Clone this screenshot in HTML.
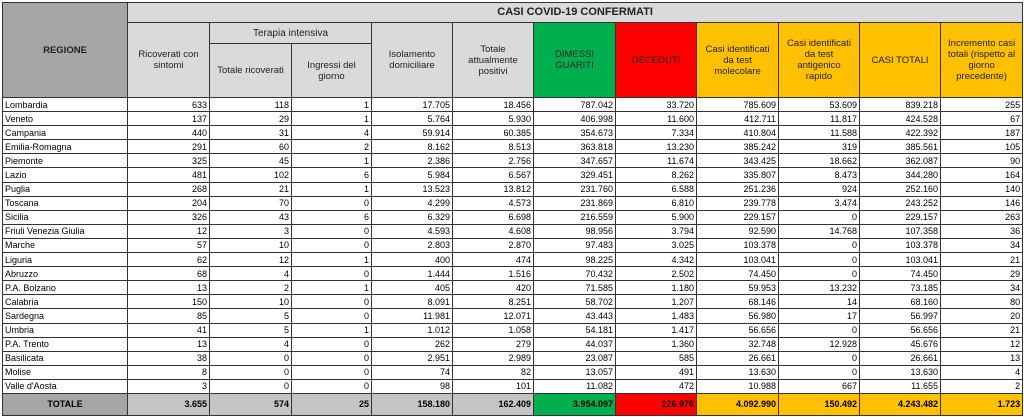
<!DOCTYPE html>
<html><head><meta charset="utf-8"><style>
body{margin:0;background:#fff;width:1024px;height:417px;overflow:hidden;font-family:"Liberation Sans",sans-serif;}
table{position:absolute;left:2px;top:2px;border-collapse:collapse;table-layout:fixed;width:1020px;}
td{border:1px solid #333;padding:0 2px;font-size:9px;line-height:12px;overflow:hidden;white-space:nowrap;text-align:right;color:#000;}
td.l{text-align:left}
.h td{background:#dadada;text-align:center;white-space:normal;line-height:11px;font-size:9.5px;color:#222;padding:0 7px}
.g{background:#00b04f!important}
.r{background:#ff0000!important}
.o{background:#ffc000!important}
.reg{background:#a6a6a6!important;font-weight:bold}
tr.d td{height:13.1px}
tr.t td{height:21px;background:#c4c4c4;font-weight:bold;font-size:9px}
</style></head><body>
<table>
<colgroup><col style="width:125px"><col style="width:82px"><col style="width:82px"><col style="width:80px"><col style="width:81px"><col style="width:81px"><col style="width:82px"><col style="width:81px"><col style="width:82px"><col style="width:81px"><col style="width:81px"><col style="width:82px"></colgroup>
<tr class="h"><td rowspan="3" class="reg">REGIONE</td><td colspan="11" style="height:19px;font-weight:bold;font-size:11px">CASI COVID-19 CONFERMATI</td></tr>
<tr class="h"><td rowspan="2">Ricoverati con sintomi</td><td colspan="2" style="height:20px;font-size:10px">Terapia intensiva</td><td rowspan="2">Isolamento domiciliare</td><td rowspan="2">Totale attualmente positivi</td><td rowspan="2" class="g">DIMESSI GUARITI</td><td rowspan="2" class="r">DECEDUTI</td><td rowspan="2" class="o">Casi identificati da test molecolare</td><td rowspan="2" class="o">Casi identificati da test antigenico rapido</td><td rowspan="2" class="o">CASI TOTALI</td><td rowspan="2" class="o" style="padding:0 3px">Incremento casi totali (rispetto al giorno precedente)</td></tr>
<tr class="h"><td style="height:53px">Totale ricoverati</td><td>Ingressi del giorno</td></tr>
<tr class="d"><td class="l">Lombardia</td><td>633</td><td>118</td><td>1</td><td>17.705</td><td>18.456</td><td>787.042</td><td>33.720</td><td>785.609</td><td>53.609</td><td>839.218</td><td>255</td></tr>
<tr class="d"><td class="l">Veneto</td><td>137</td><td>29</td><td>1</td><td>5.764</td><td>5.930</td><td>406.998</td><td>11.600</td><td>412.711</td><td>11.817</td><td>424.528</td><td>67</td></tr>
<tr class="d"><td class="l">Campania</td><td>440</td><td>31</td><td>4</td><td>59.914</td><td>60.385</td><td>354.673</td><td>7.334</td><td>410.804</td><td>11.588</td><td>422.392</td><td>187</td></tr>
<tr class="d"><td class="l">Emilia-Romagna</td><td>291</td><td>60</td><td>2</td><td>8.162</td><td>8.513</td><td>363.818</td><td>13.230</td><td>385.242</td><td>319</td><td>385.561</td><td>105</td></tr>
<tr class="d"><td class="l">Piemonte</td><td>325</td><td>45</td><td>1</td><td>2.386</td><td>2.756</td><td>347.657</td><td>11.674</td><td>343.425</td><td>18.662</td><td>362.087</td><td>90</td></tr>
<tr class="d"><td class="l">Lazio</td><td>481</td><td>102</td><td>6</td><td>5.984</td><td>6.567</td><td>329.451</td><td>8.262</td><td>335.807</td><td>8.473</td><td>344.280</td><td>164</td></tr>
<tr class="d"><td class="l">Puglia</td><td>268</td><td>21</td><td>1</td><td>13.523</td><td>13.812</td><td>231.760</td><td>6.588</td><td>251.236</td><td>924</td><td>252.160</td><td>140</td></tr>
<tr class="d"><td class="l">Toscana</td><td>204</td><td>70</td><td>0</td><td>4.299</td><td>4.573</td><td>231.869</td><td>6.810</td><td>239.778</td><td>3.474</td><td>243.252</td><td>146</td></tr>
<tr class="d"><td class="l">Sicilia</td><td>326</td><td>43</td><td>6</td><td>6.329</td><td>6.698</td><td>216.559</td><td>5.900</td><td>229.157</td><td>0</td><td>229.157</td><td>263</td></tr>
<tr class="d"><td class="l">Friuli Venezia Giulia</td><td>12</td><td>3</td><td>0</td><td>4.593</td><td>4.608</td><td>98.956</td><td>3.794</td><td>92.590</td><td>14.768</td><td>107.358</td><td>36</td></tr>
<tr class="d"><td class="l">Marche</td><td>57</td><td>10</td><td>0</td><td>2.803</td><td>2.870</td><td>97.483</td><td>3.025</td><td>103.378</td><td>0</td><td>103.378</td><td>34</td></tr>
<tr class="d"><td class="l">Liguria</td><td>62</td><td>12</td><td>1</td><td>400</td><td>474</td><td>98.225</td><td>4.342</td><td>103.041</td><td>0</td><td>103.041</td><td>21</td></tr>
<tr class="d"><td class="l">Abruzzo</td><td>68</td><td>4</td><td>0</td><td>1.444</td><td>1.516</td><td>70.432</td><td>2.502</td><td>74.450</td><td>0</td><td>74.450</td><td>29</td></tr>
<tr class="d"><td class="l">P.A. Bolzano</td><td>13</td><td>2</td><td>1</td><td>405</td><td>420</td><td>71.585</td><td>1.180</td><td>59.953</td><td>13.232</td><td>73.185</td><td>34</td></tr>
<tr class="d"><td class="l">Calabria</td><td>150</td><td>10</td><td>0</td><td>8.091</td><td>8.251</td><td>58.702</td><td>1.207</td><td>68.146</td><td>14</td><td>68.160</td><td>80</td></tr>
<tr class="d"><td class="l">Sardegna</td><td>85</td><td>5</td><td>0</td><td>11.981</td><td>12.071</td><td>43.443</td><td>1.483</td><td>56.980</td><td>17</td><td>56.997</td><td>20</td></tr>
<tr class="d"><td class="l">Umbria</td><td>41</td><td>5</td><td>1</td><td>1.012</td><td>1.058</td><td>54.181</td><td>1.417</td><td>56.656</td><td>0</td><td>56.656</td><td>21</td></tr>
<tr class="d"><td class="l">P.A. Trento</td><td>13</td><td>4</td><td>0</td><td>262</td><td>279</td><td>44.037</td><td>1.360</td><td>32.748</td><td>12.928</td><td>45.676</td><td>12</td></tr>
<tr class="d"><td class="l">Basilicata</td><td>38</td><td>0</td><td>0</td><td>2.951</td><td>2.989</td><td>23.087</td><td>585</td><td>26.661</td><td>0</td><td>26.661</td><td>13</td></tr>
<tr class="d"><td class="l">Molise</td><td>8</td><td>0</td><td>0</td><td>74</td><td>82</td><td>13.057</td><td>491</td><td>13.630</td><td>0</td><td>13.630</td><td>4</td></tr>
<tr class="d"><td class="l">Valle d'Aosta</td><td>3</td><td>0</td><td>0</td><td>98</td><td>101</td><td>11.082</td><td>472</td><td>10.988</td><td>667</td><td>11.655</td><td>2</td></tr>
<tr class="t"><td class="reg" style="text-align:center">TOTALE</td><td>3.655</td><td>574</td><td>25</td><td>158.180</td><td>162.409</td><td class="g">3.954.097</td><td class="r">126.976</td><td class="o">4.092.990</td><td class="o">150.492</td><td class="o">4.243.482</td><td class="o">1.723</td></tr>
</table>
</body></html>
